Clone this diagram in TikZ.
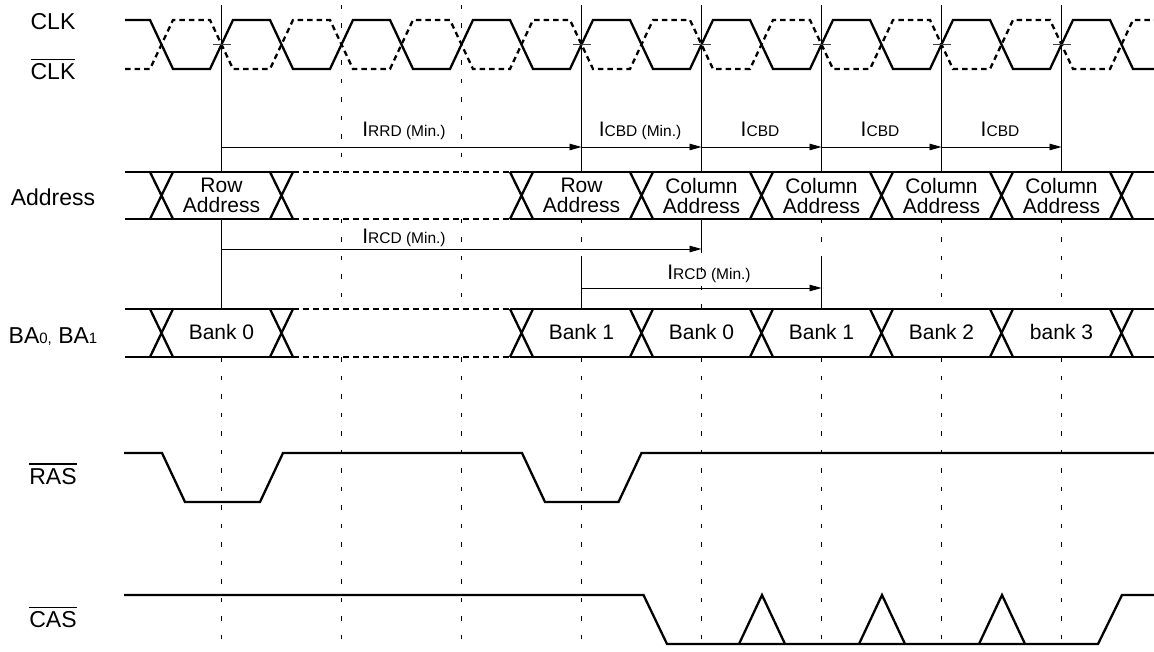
\documentclass[tikz,border=0pt]{standalone}
\usepackage{fontspec}
\setmainfont{Liberation Sans}
\usetikzlibrary{arrows.meta}
\newcommand\ovbar[1]{\setbox0=\hbox{#1}\rlap{\raise\dimexpr\ht0+3.6pt\relax\hbox{\vrule width \wd0 height 1.3pt depth 0pt}}\box0}
\newcommand\tsym[2]{{\fontsize{21}{21}\selectfont I}{\fontsize{15.5}{16}\selectfont #1#2}}
\newcommand\smalldig[1]{{\fontsize{15}{15}\selectfont #1}}
\begin{document}
\begin{tikzpicture}[x=1pt,y=-1pt,
  sig/.style={line width=2.3pt},
  sigdash/.style={sig, dash pattern=on 6pt off 4pt},
  clkdash/.style={sig, dash pattern=on 5.5pt off 4pt},
  vsolid/.style={line width=0.9pt},
  vdash/.style={line width=0.9pt, dash pattern=on 4.5pt off 14pt},
  tarrow/.style={line width=0.9pt, -{Triangle[length=12pt,width=6.5pt]}},
  lbl/.style={font=\fontsize{23}{26}\selectfont, inner sep=0pt, anchor=base},
  cell/.style={font=\fontsize{21}{20}\selectfont, align=center, inner sep=0pt},
  bank/.style={font=\fontsize{21}{20}\selectfont, inner sep=0pt, anchor=base},
  tlab/.style={inner sep=0pt, anchor=base},
  tick/.style={line width=1.6pt, draw=black!75},
]
\useasboundingbox (0,0) rectangle (1154,652);

% ---------- left labels ----------
\node[lbl] (lclk)  at (53,29.5) {CLK};
\node[lbl] (lclkb) at (53,79.5) {\ovbar{CLK}};
\node[lbl] (laddr) at (53,206) {Address};
\node[lbl] (lba)   at (53,343) {BA\smalldig{0,} BA\smalldig{1}};
\node[lbl] (lras)  at (53,484.3) {\ovbar{RAS}};
\node[lbl] (lcas)  at (53,627.7) {\ovbar{CAS}};

% ---------- vertical reference lines ----------
\draw[vsolid] (221.5,5) -- (221.5,172) (221.5,219) -- (221.5,309);
\draw[vdash] (221.5,357) -- (221.5,645);
\foreach \x in {341.5,461.5}
  \draw[vdash] (\x,5) -- (\x,172) (\x,219) -- (\x,309) (\x,357) -- (\x,645);
\foreach \x in {581.5,821.5} {
  \draw[vsolid] (\x,5) -- (\x,172) (\x,258) -- (\x,309);
  \draw[vdash] (\x,219) -- (\x,258) (\x,357) -- (\x,645);
}
\draw[vsolid] (701.5,5) -- (701.5,172) (701.5,219) -- (701.5,249);
\draw[vdash] (701.5,249) -- (701.5,309) (701.5,357) -- (701.5,645);
\foreach \x in {941.5,1061.5} {
  \draw[vsolid] (\x,5) -- (\x,172);
  \draw[vdash] (\x,219) -- (\x,309) (\x,357) -- (\x,645);
}

% ---------- clocks ----------
\draw[sig] (125,20)
  \foreach \c in {161.5,281.5,401.5,521.5,641.5,761.5,881.5,1001.5}
    { -- (\c-11.5,20) -- (\c+11.5,69) -- (\c+48.5,69) -- (\c+71.5,20) }
  -- (1110,20) -- (1133,69) -- (1154,69);
\draw[clkdash] (125,69)
  \foreach \c in {161.5,281.5,401.5,521.5,641.5,761.5,881.5,1001.5}
    { -- (\c-11.5,69) -- (\c+11.5,20) -- (\c+48.5,20) -- (\c+71.5,69) }
  -- (1110,69) -- (1133,20) -- (1154,20);
\foreach \x in {221.5,581.5,701.5,821.5,941.5,1061.5}
  \draw[tick] (\x-9,44.5) -- (\x+9,44.5);

% ---------- bus rows ----------
\foreach \t/\b in {172/219,309/357} {
  \draw[sig] (125,\t) -- (293,\t) (125,\b) -- (293,\b)
             (510,\t) -- (1154,\t) (510,\b) -- (1154,\b);
  \draw[sigdash] (293,\t) -- (510,\t) (293,\b) -- (510,\b);
  \foreach \c in {161.5,281.5,521.5,641.5,761.5,881.5,1001.5,1121.5}
    \draw[sig] (\c-11.5,\t) -- (\c+11.5,\b) (\c-11.5,\b) -- (\c+11.5,\t);
}

% address cells
\node[cell] (ra1) at (221.5,195.5) {Row\\Address};
\node[cell] (ra2) at (581.5,195.5) {Row\\Address};
\node[cell] (ca1) at (701.5,195.5) {Column\\Address};
\node[cell] (ca2) at (821.5,195.5) {Column\\Address};
\node[cell] (ca3) at (941.5,195.5) {Column\\Address};
\node[cell] (ca4) at (1061.5,195.5) {Column\\Address};

% bank cells
\node[bank] (bk1) at (221.5,340) {Bank 0};
\node[bank] (bk2) at (581.5,340) {Bank 1};
\node[bank] (bk3) at (701.5,340) {Bank 0};
\node[bank] (bk4) at (821.5,340) {Bank 1};
\node[bank] (bk5) at (941.5,340) {Bank 2};
\node[bank] (bk6) at (1061.5,340) {bank 3};

% ---------- timing arrows ----------
\coordinate (t0) at (221.5,147);
\coordinate (t1) at (581.5,147);
\coordinate (t2) at (701.5,147);
\coordinate (t3) at (821.5,147);
\coordinate (t4) at (941.5,147);
\coordinate (t5) at (1061.5,147);
\draw[tarrow] (t0) -- (t1);
\draw[tarrow] (t1) -- (t2);
\draw[tarrow] (t2) -- (t3);
\draw[tarrow] (t3) -- (t4);
\draw[tarrow] (t4) -- (t5);
\node[tlab] (trrd)  at (404,137) {\tsym{RRD}{ (Min.)}};
\node[tlab] (tcbd0) at (640,137) {\tsym{CBD}{ (Min.)}};
\node[tlab] (tcbd1) at (760,137) {\tsym{CBD}{}};
\node[tlab] (tcbd2) at (880,137) {\tsym{CBD}{}};
\node[tlab] (tcbd3) at (1000,137) {\tsym{CBD}{}};

\coordinate (r0) at (221.5,249);
\coordinate (r1) at (701.5,249);
\draw[tarrow] (r0) -- (r1);
\node[tlab] (trcd1) at (404,244) {\tsym{RCD}{ (Min.)}};

\coordinate (s0) at (581.5,288);
\coordinate (s1) at (821.5,288);
\draw[tarrow] (s0) -- (s1);
\node[tlab] (trcd2) at (709,280) {\tsym{RCD}{ (Min.)}};

% ---------- RAS / CAS ----------
\draw[sig] (124,453) -- (162,453) -- (185,502) -- (260,502) -- (283,453)
  -- (522,453) -- (545,502) -- (618.5,502) -- (641.5,453) -- (1154,453);
\draw[sig] (124,595) -- (643.5,595) -- (667,644) -- (1098,644) -- (1122,595) -- (1154,595);
\foreach \c in {762,882,1002}
  \draw[sig] (\c-23,644) -- (\c,595) -- (\c+23,644);
\end{tikzpicture}
\end{document}
